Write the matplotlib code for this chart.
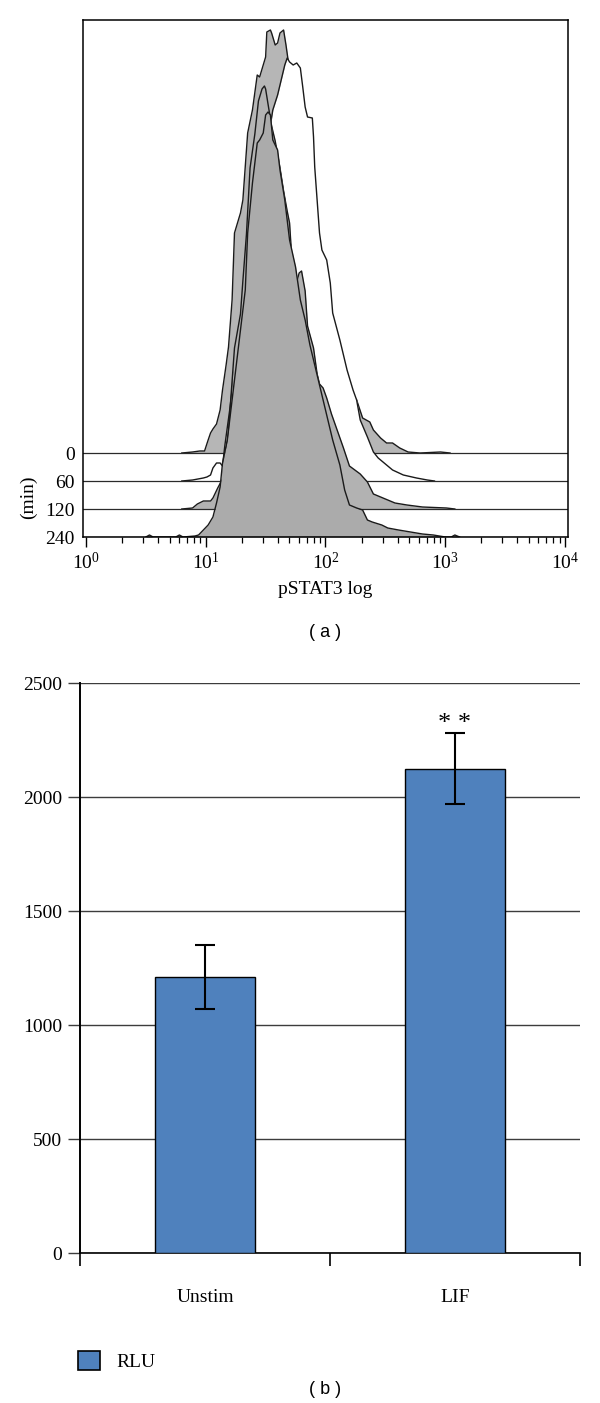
import numpy as np
import matplotlib
matplotlib.use('Agg')
import matplotlib.pyplot as plt
from matplotlib.patches import Patch
from matplotlib.ticker import LogLocator, FixedLocator, NullFormatter, LogFormatterSciNotation

plt.rcParams['font.family'] = 'serif'
plt.rcParams['font.serif'] = ['Liberation Serif', 'DejaVu Serif']
plt.rcParams['mathtext.fontset'] = 'custom'
plt.rcParams['mathtext.rm'] = 'Liberation Serif'

#(a) pSTAT3 flow histograms, log10 intensity vs counts, one trace per time point
times = ['0', '60', '120', '240']
offsets = [84, 56, 28, 0]
fills = ['#b6b6b6', '#ffffff', '#b2b2b2', '#ababab']

logI_0 = [0.80, 0.89, 0.95, 0.99, 1.02, 1.04, 1.06, 1.09, 1.12, 1.14, 1.17, 1.19, 1.22, 1.24, 1.29,
          1.31, 1.35, 1.39, 1.43, 1.45, 1.50, 1.51, 1.54, 1.55, 1.58, 1.60, 1.62, 1.65, 1.67, 1.69,
          1.72, 1.76, 1.81, 1.87, 1.94, 2.04, 2.16, 2.26, 2.31, 2.37, 2.40, 2.46, 2.51, 2.56, 2.62,
          2.69, 2.79, 2.96, 3.04]
cnt_0 = [0, 1, 2, 2, 13, 20, 24, 29, 43, 63, 88, 106, 153, 220, 240,
         253, 320, 343, 378, 376, 396, 421, 423, 420, 408, 410, 420, 423, 408, 391,
         353, 303, 253, 203, 153, 103, 68, 53, 35, 31, 23, 15, 10, 10, 5,
         1, 0, 1, 0]

logI_60 = [0.80, 0.89, 0.98, 1.01, 1.04, 1.06, 1.09, 1.12, 1.14, 1.16, 1.20, 1.24, 1.29, 1.33,
           1.37, 1.41, 1.47, 1.52, 1.56, 1.60, 1.63, 1.66, 1.68, 1.70, 1.73, 1.76, 1.79, 1.81,
           1.83, 1.85, 1.89, 1.90, 1.91, 1.93, 1.95, 1.97, 2.01, 2.04, 2.06, 2.12, 2.18, 2.23,
           2.26, 2.29, 2.35, 2.40, 2.44, 2.51, 2.56, 2.65, 2.76, 2.85, 2.91]
cnt_60 = [0, 1, 3, 4, 6, 13, 18, 18, 15, 36, 71, 111, 151, 191,
          231, 266, 311, 341, 371, 386, 401, 416, 423, 419, 416, 418, 413, 394,
          374, 364, 363, 344, 314, 281, 248, 231, 221, 198, 168, 141, 111, 91,
          81, 61, 44, 29, 23, 16, 11, 6, 3, 1, 0]

logI_120 = [0.80, 0.89, 0.93, 0.98, 1.04, 1.06, 1.10, 1.14, 1.15, 1.17, 1.19, 1.22, 1.24, 1.29,
            1.31, 1.34, 1.37, 1.41, 1.44, 1.47, 1.49, 1.50, 1.52, 1.55, 1.58, 1.62, 1.65, 1.68,
            1.70, 1.72, 1.75, 1.78, 1.80, 1.83, 1.85, 1.90, 1.93, 1.95, 1.98, 2.01, 2.05, 2.10,
            2.15, 2.20, 2.29, 2.35, 2.40, 2.48, 2.58, 2.68, 2.81, 3.01, 3.08]
cnt_120 = [0, 1, 5, 8, 8, 11, 21, 30, 43, 58, 78, 128, 161, 195,
           228, 275, 341, 375, 408, 420, 423, 420, 405, 383, 368, 341, 318, 298,
           286, 248, 223, 236, 238, 218, 183, 161, 135, 125, 121, 111, 95, 78,
           61, 43, 35, 27, 15, 11, 6, 4, 2, 1, 0]

logI_240 = [0.50, 0.53, 0.56, 0.75, 0.78, 0.81, 0.91, 0.94, 0.98, 1.02, 1.06, 1.09, 1.12, 1.14,
            1.18, 1.20, 1.24, 1.29, 1.33, 1.35, 1.39, 1.43, 1.45, 1.48, 1.50, 1.52, 1.54, 1.56,
            1.60, 1.62, 1.66, 1.70, 1.75, 1.79, 1.83, 1.87, 1.94, 2.00, 2.06, 2.12, 2.16, 2.20,
            2.26, 2.31, 2.35, 2.39, 2.47, 2.52, 2.61, 2.71, 2.81, 2.90, 3.00, 3.05, 3.08, 3.12]
cnt_240 = [0, 2, 0, 0, 2, 0, 1, 2, 7, 12, 20, 34, 50, 74,
           97, 117, 157, 207, 247, 304, 354, 394, 397, 404, 422, 425, 422, 397,
           387, 367, 337, 297, 270, 237, 217, 192, 157, 127, 97, 72, 47, 32,
           29, 27, 17, 15, 12, 9, 7, 5, 3, 2, 0, 0, 2, 0]

curves = [(logI_0, cnt_0), (logI_60, cnt_60), (logI_120, cnt_120), (logI_240, cnt_240)]

#(b) luciferase reporter
groups = ['Unstim', 'LIF']
rlu = [1210, 2125]
rlu_err = [142, 157]
bar_color = '#4f81bd'

fs = 14
fig = plt.figure(figsize=(6, 14.03), dpi=100)

#---- panel (a)
ax1 = fig.add_axes([83/600, 1-537/1403, 485/600, 517/1403])
ax1.set_xscale('log')
for i, (lx, c) in enumerate(curves):
    x = 10**np.array(lx)
    y = offsets[i] + np.array(c)
    z = 2 + 3*i
    ax1.fill_between(x, offsets[i], y, color=fills[i], lw=0, zorder=z)
    ax1.plot(x, y, color='#1a1a1a', lw=1.0, zorder=z+0.1)
    ax1.axhline(offsets[i], color='#2a2a2a', lw=0.9, zorder=z+0.2)

ax1.set_xlim(10**-0.025, 10**4.025)
ax1.set_ylim(0, 517)
ax1.xaxis.set_major_locator(LogLocator(base=10, numticks=10))
ax1.xaxis.set_major_formatter(LogFormatterSciNotation())
ax1.xaxis.set_minor_locator(LogLocator(base=10, subs=np.arange(2, 10), numticks=20))
ax1.xaxis.set_minor_formatter(NullFormatter())
ax1.tick_params(axis='x', which='major', direction='out', length=7, width=1, labelsize=fs, pad=4)
ax1.tick_params(axis='x', which='minor', direction='out', length=4.5, width=0.9)
ax1.yaxis.set_major_locator(FixedLocator(offsets))
ax1.set_yticklabels(times)
ax1.tick_params(axis='y', which='both', length=0, labelsize=fs, pad=6)
for s in ax1.spines.values():
    s.set_linewidth(1.1)
    s.set_zorder(20)
ax1.set_xlabel('pSTAT3 log', fontsize=fs, va='center')
ax1.xaxis.set_label_coords(0.5, -0.1025)
ax1.set_ylabel('(min)', fontsize=fs, va='center', ha='center')
ax1.yaxis.set_label_coords(-0.112, 0.077)
fig.text(325/600, 1-633/1403, '( a )', family='Liberation Sans', fontsize=13, ha='center', va='center')

#---- panel (b)
ax2 = fig.add_axes([80/600, 1-1253/1403, 500/600, 570/1403])
xpos = np.arange(len(groups))
ax2.bar(xpos, rlu, width=0.4, color=bar_color, edgecolor='black', linewidth=1, zorder=3,
        yerr=rlu_err, capsize=7,
        error_kw=dict(elinewidth=1.5, capthick=1.5, ecolor='black', zorder=4))
ax2.text(xpos[1], rlu[1]+rlu_err[1]-8, '* *', ha='center', va='bottom', fontsize=19, zorder=5)

ax2.set_xlim(-0.5, 1.5)
ax2.set_ylim(0, 2500)
ax2.set_yticks(np.arange(0, 2501, 500))
ax2.yaxis.grid(True, color='#3c3c3c', lw=1)
ax2.set_axisbelow(True)
ax2.tick_params(axis='y', length=9, width=1, color='#3c3c3c', labelsize=fs, pad=4)
ax2.xaxis.set_major_locator(FixedLocator([-0.5, 0.5, 1.5]))
ax2.xaxis.set_major_formatter(NullFormatter())
ax2.xaxis.set_minor_locator(FixedLocator(xpos))
ax2.set_xticklabels(groups, minor=True)
ax2.tick_params(axis='x', which='major', length=9, width=1.2, direction='out')
ax2.tick_params(axis='x', which='minor', length=0, labelsize=fs, pad=26)
ax2.spines['top'].set_visible(False)
ax2.spines['right'].set_visible(False)
ax2.spines['left'].set_linewidth(1.4)
ax2.spines['bottom'].set_linewidth(1.2)

fig.legend(handles=[Patch(facecolor=bar_color, edgecolor='black', linewidth=1.2)], labels=['RLU'],
           loc='center left', bbox_to_anchor=(78/600, 1-1361/1403), frameon=False,
           borderaxespad=0, borderpad=0, handlelength=1.15, handleheight=1.15,
           handletextpad=0.85, fontsize=fs)
fig.text(325/600, 1-1390/1403, '( b )', family='Liberation Sans', fontsize=13, ha='center', va='center')

fig.savefig('out.png', dpi=100)
plt.close()
